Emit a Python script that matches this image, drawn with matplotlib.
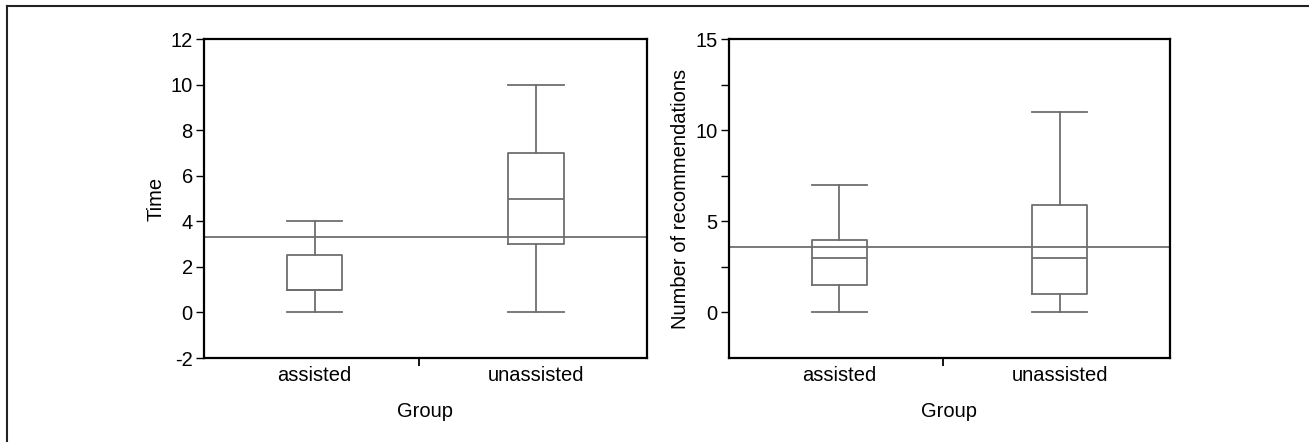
import matplotlib
matplotlib.use("Agg")
import matplotlib.pyplot as plt
from matplotlib.lines import Line2D

plt.rcParams['font.family'] = ['Liberation Sans', 'DejaVu Sans']
plt.rcParams['axes.unicode_minus'] = False

groups = ['assisted', 'unassisted']

# Time panel (box stats)
time_low = [0, 0]
time_q1 = [1, 3]
time_med = [1, 5]
time_q3 = [2.5, 7]
time_high = [4, 10]
time_mean = 3.33

# Recommendations panel
rec_low = [0, 0]
rec_q1 = [1.5, 1]
rec_med = [3, 3]
rec_q3 = [4, 5.9]
rec_high = [7, 11]
rec_mean = 3.57

box_col = '#6e6e6e'
fs = 14.5


def make_stats(low, q1, med, q3, high):
    stats = []
    for i in range(len(groups)):
        stats.append({'whislo': low[i], 'q1': q1[i], 'med': med[i], 'q3': q3[i],
                      'whishi': high[i], 'fliers': [], 'label': groups[i]})
    return stats


def draw(ax, stats, mean, ylim, ylabel, lpad):
    lp = dict(color=box_col, linewidth=1.3)
    ax.bxp(stats, positions=[1, 2], widths=0.25, showfliers=False,
           boxprops=lp, whiskerprops=lp, capprops=lp, medianprops=lp)
    ax.axhline(mean, color=box_col, linewidth=1.3)
    ax.set_xlim(0.5, 2.5)
    ax.set_ylim(*ylim)
    ax.set_xticks([1, 2])
    ax.set_xticklabels(groups, fontsize=fs)
    ax.tick_params(axis='x', which='major', length=0, pad=6)
    # single tick between the two groups
    ax.set_xticks([1.47], minor=True)
    ax.tick_params(axis='x', which='minor', length=6, width=1.3, direction='out')
    ax.tick_params(axis='y', which='both', length=6, width=1.0, pad=2, labelsize=fs, direction='out')
    for s in ax.spines.values():
        s.set_linewidth(1.6)
        s.set_color('black')
    ax.set_xlabel('Group', fontsize=fs, labelpad=12)
    ax.set_ylabel(ylabel, fontsize=fs, labelpad=lpad)


fig = plt.figure(figsize=(13.09, 4.42), dpi=100)
ax1 = fig.add_axes([0.1558, 0.190, 0.3384, 0.7217])
ax2 = fig.add_axes([0.5569, 0.190, 0.3369, 0.7217])

draw(ax1, make_stats(time_low, time_q1, time_med, time_q3, time_high), time_mean, (-2, 12), 'Time', 4)
ax1.set_yticks(range(-2, 13, 2))

draw(ax2, make_stats(rec_low, rec_q1, rec_med, rec_q3, rec_high), rec_mean, (-2.5, 15), 'Number of recommendations', 4)
ax2.set_yticks([0, 5, 10, 15])
ax2.set_yticks([2.5, 7.5, 12.5], minor=True)

# cap widths equal to box widths
for ax in (ax1, ax2):
    for ln in ax.lines:
        xd = list(ln.get_xdata())
        if len(xd) == 2 and xd[0] != xd[1] and abs(xd[1] - xd[0]) < 0.2:
            mid = (xd[0] + xd[1]) / 2
            ln.set_xdata([mid - 0.125, mid + 0.125])

# page frame on top and left
fig.add_artist(Line2D([6.5 / 1309, 6.5 / 1309], [0, 1 - 6 / 442], transform=fig.transFigure, color='#222222', linewidth=1.5))
fig.add_artist(Line2D([6.5 / 1309, 1], [1 - 6 / 442, 1 - 6 / 442], transform=fig.transFigure, color='#222222', linewidth=1.5))

fig.savefig('out.png', dpi=100)
